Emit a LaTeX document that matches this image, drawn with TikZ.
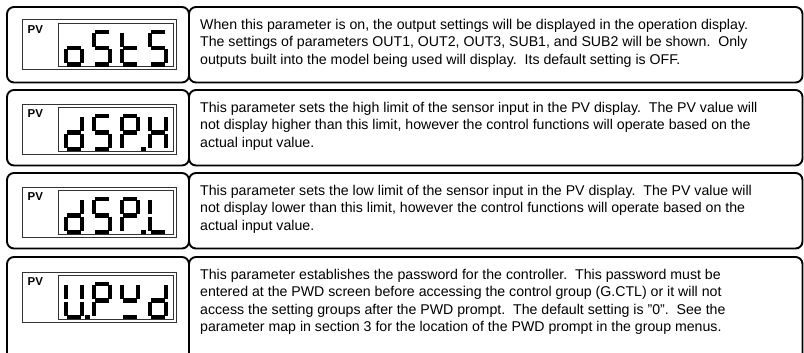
\documentclass[tikz,border=0pt]{standalone}
\usepackage{fontspec}
\setmainfont{Liberation Sans}
\frenchspacing
% seven-segment pieces (local coordinates, y downwards, digit 20 x 37)
\newcommand\sgA{\draw[seg] (3.2,2.1) -- (16.8,2.1);}
\newcommand\sgB{\draw[seg] (17.9,3.2) -- (17.9,17.4);}
\newcommand\sgC{\draw[seg] (17.9,19.6) -- (17.9,33.8);}
\newcommand\sgD{\draw[seg] (3.2,34.9) -- (16.8,34.9);}
\newcommand\sgE{\draw[seg] (2.1,19.6) -- (2.1,33.8);}
\newcommand\sgF{\draw[seg] (2.1,3.2) -- (2.1,17.4);}
\newcommand\sgG{\draw[seg] (3.2,18.5) -- (16.8,18.5);}
\newcommand\sgP{\fill (21.4,32.8) rectangle (25.6,37);}
\newcommand\sevdigit[3]{%
  \begin{scope}[shift={(#1,#2)}]
    \foreach \s in {#3}{\csname sg\s\endcsname}
  \end{scope}}
% one display: #1 = top of outer frame, #2 #3 #4 #5 = segment lists, #6 = name
\newcommand\pvdisplay[6]{%
  \draw[dispframe] (22,#1) rectangle (176,#1+50);
  \draw[dispframe] (58,#1+3.5) rectangle (173,#1+47);
  \node[pvlabel] (#6) at (27.5,#1+13.5) {PV};
  \sevdigit{64}{#1+10}{#2}
  \sevdigit{92}{#1+10}{#3}
  \sevdigit{120}{#1+10}{#4}
  \sevdigit{148}{#1+10}{#5}}
\begin{document}
\begin{tikzpicture}[x=1bp,y=-1bp,
  rowbox/.style={draw=black, line width=1.9bp, rounded corners=7bp},
  dispframe/.style={draw=black!80, line width=1bp},
  seg/.style={line width=4.2bp, line cap=butt, draw=black},
  pvlabel/.style={font=\fontsize{11.5}{11.5}\selectfont\bfseries, anchor=base west, inner sep=0pt},
  desc/.style={font=\fontsize{14.2}{17.5}\selectfont, anchor=base west, inner sep=0pt, align=left},
]
\useasboundingbox (0,0) rectangle (804,352);
\clip (0,0) rectangle (804,352);
% row frames
\foreach \t/\b in {7/82.5, 90/165.5, 173/248.5, 257/370}{
  \draw[rowbox] (7,\t) rectangle (189,\b);
  \draw[rowbox] (189,\t) rectangle (802.5,\b);
}
% displays
\pvdisplay{19.5}{C,D,E,G}{A,F,G,C,D}{D,E,F,G}{A,F,G,C,D}{pv1}
\pvdisplay{104}{B,C,D,E,G}{A,F,G,C,D}{A,B,E,F,G,P}{B,C,E,F,G}{pv2}
\pvdisplay{187}{B,C,D,E,G}{A,F,G,C,D}{A,B,E,F,G,P}{D,E,F}{pv3}
\pvdisplay{272}{B,C,D,E,F,P}{A,B,E,F,G}{B,D,F,G}{B,C,D,E,G}{pv4}
% descriptions (anchor = baseline of the last line)
\node[desc] (t1) at (200,64) {When this parameter is on, the output settings will be displayed in the operation display.\\
The settings of parameters OUT1, OUT2, OUT3, SUB1, and SUB2 will be shown.\ \ Only\\
outputs built into the model being used will display.\ \ Its default setting is OFF.};
\node[desc] (t2) at (200,147) {This parameter sets the high limit of the sensor input in the PV display.\ \ The PV value will\\
not display higher than this limit, however the control functions will operate based on the\\
actual input value.};
\node[desc] (t3) at (200,230) {This parameter sets the low limit of the sensor input in the PV display.\ \ The PV value will\\
not display lower than this limit, however the control functions will operate based on the\\
actual input value.};
\node[desc] (t4) at (200,331.5) {This parameter establishes the password for the controller.\ \ This password must be\\
entered at the PWD screen before accessing the control group (G.CTL) or it will not\\
access the setting groups after the PWD prompt.\ \ The default setting is \symbol{34}0\symbol{34}.\ \ See the\\
parameter map in section 3 for the location of the PWD prompt in the group menus.};
\end{tikzpicture}
\end{document}
